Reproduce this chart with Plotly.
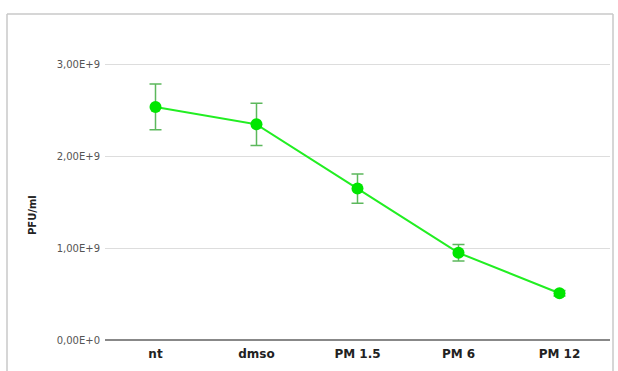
import plotly.graph_objects as go

categories = ["nt", "dmso", "PM 1.5", "PM 6", "PM 12"]
pfu_values = [2.54e9, 2.35e9, 1.65e9, 0.95e9, 0.51e9]
pfu_errors = [0.25e9, 0.23e9, 0.16e9, 0.09e9, 0.03e9]
y_tick_vals = [0, 1e9, 2e9, 3e9]
y_tick_text = ["0,00E+0", "1,00E+9", "2,00E+9", "3,00E+9"]

W, H = 618, 371
L, R, T, B = 105, 8, 28, 31
pw, ph = W - L - R, H - T - B

def px(x):
    return (x - L) / pw

def py(y):
    return (H - B - y) / ph

fig = go.Figure()
fig.add_trace(go.Scatter(
    x=categories, y=pfu_values,
    mode="lines+markers",
    line=dict(color="#22ee22", width=2),
    marker=dict(color="#00e600", size=12),
    error_y=dict(type="data", array=pfu_errors, visible=True,
                 color="#5cb85c", thickness=1.5, width=6),
    showlegend=False,
))

fig.update_layout(
    width=W, height=H,
    margin=dict(l=L, r=R, t=T, b=B),
    paper_bgcolor="white", plot_bgcolor="white",
    font=dict(family="DejaVu Sans", color="#444"),
    xaxis=dict(range=[-0.5, 4.5], showgrid=False, showline=False, zeroline=False,
               ticks="", ticklabelstandoff=5,
               tickfont=dict(size=12, color="#222", family="DejaVu Sans", weight="bold")),
    yaxis=dict(range=[0, 3.4e9], tickvals=y_tick_vals, ticktext=y_tick_text,
               showgrid=True, gridcolor="#dddddd", gridwidth=1,
               zeroline=True, zerolinecolor="#888888", zerolinewidth=1.5,
               showline=False, ticks="", ticklen=0, ticklabelstandoff=4,
               tickfont=dict(size=10, color="#555")),
    shapes=[
        dict(type="line", xref="paper", yref="paper", x0=px(7), x1=px(7), y0=py(14), y1=py(380),
             line=dict(color="#c8c8c8", width=1.5)),
        dict(type="line", xref="paper", yref="paper", x0=px(7), x1=px(613), y0=py(14), y1=py(14),
             line=dict(color="#c8c8c8", width=1.5)),
        dict(type="line", xref="paper", yref="paper", x0=px(613), x1=px(613), y0=py(14), y1=py(380),
             line=dict(color="#c8c8c8", width=1.5)),
    ],
    annotations=[
        dict(text="<b>PFU/ml</b>", xref="paper", yref="paper", x=px(32), y=py(215),
             textangle=-90, showarrow=False, font=dict(size=10, color="#222"),
             xanchor="center", yanchor="middle"),
    ],
)

fig.write_html("out.html", config={"displayModeBar": False},
               post_script="document.body.style.margin='0';document.body.style.overflow='hidden';")
